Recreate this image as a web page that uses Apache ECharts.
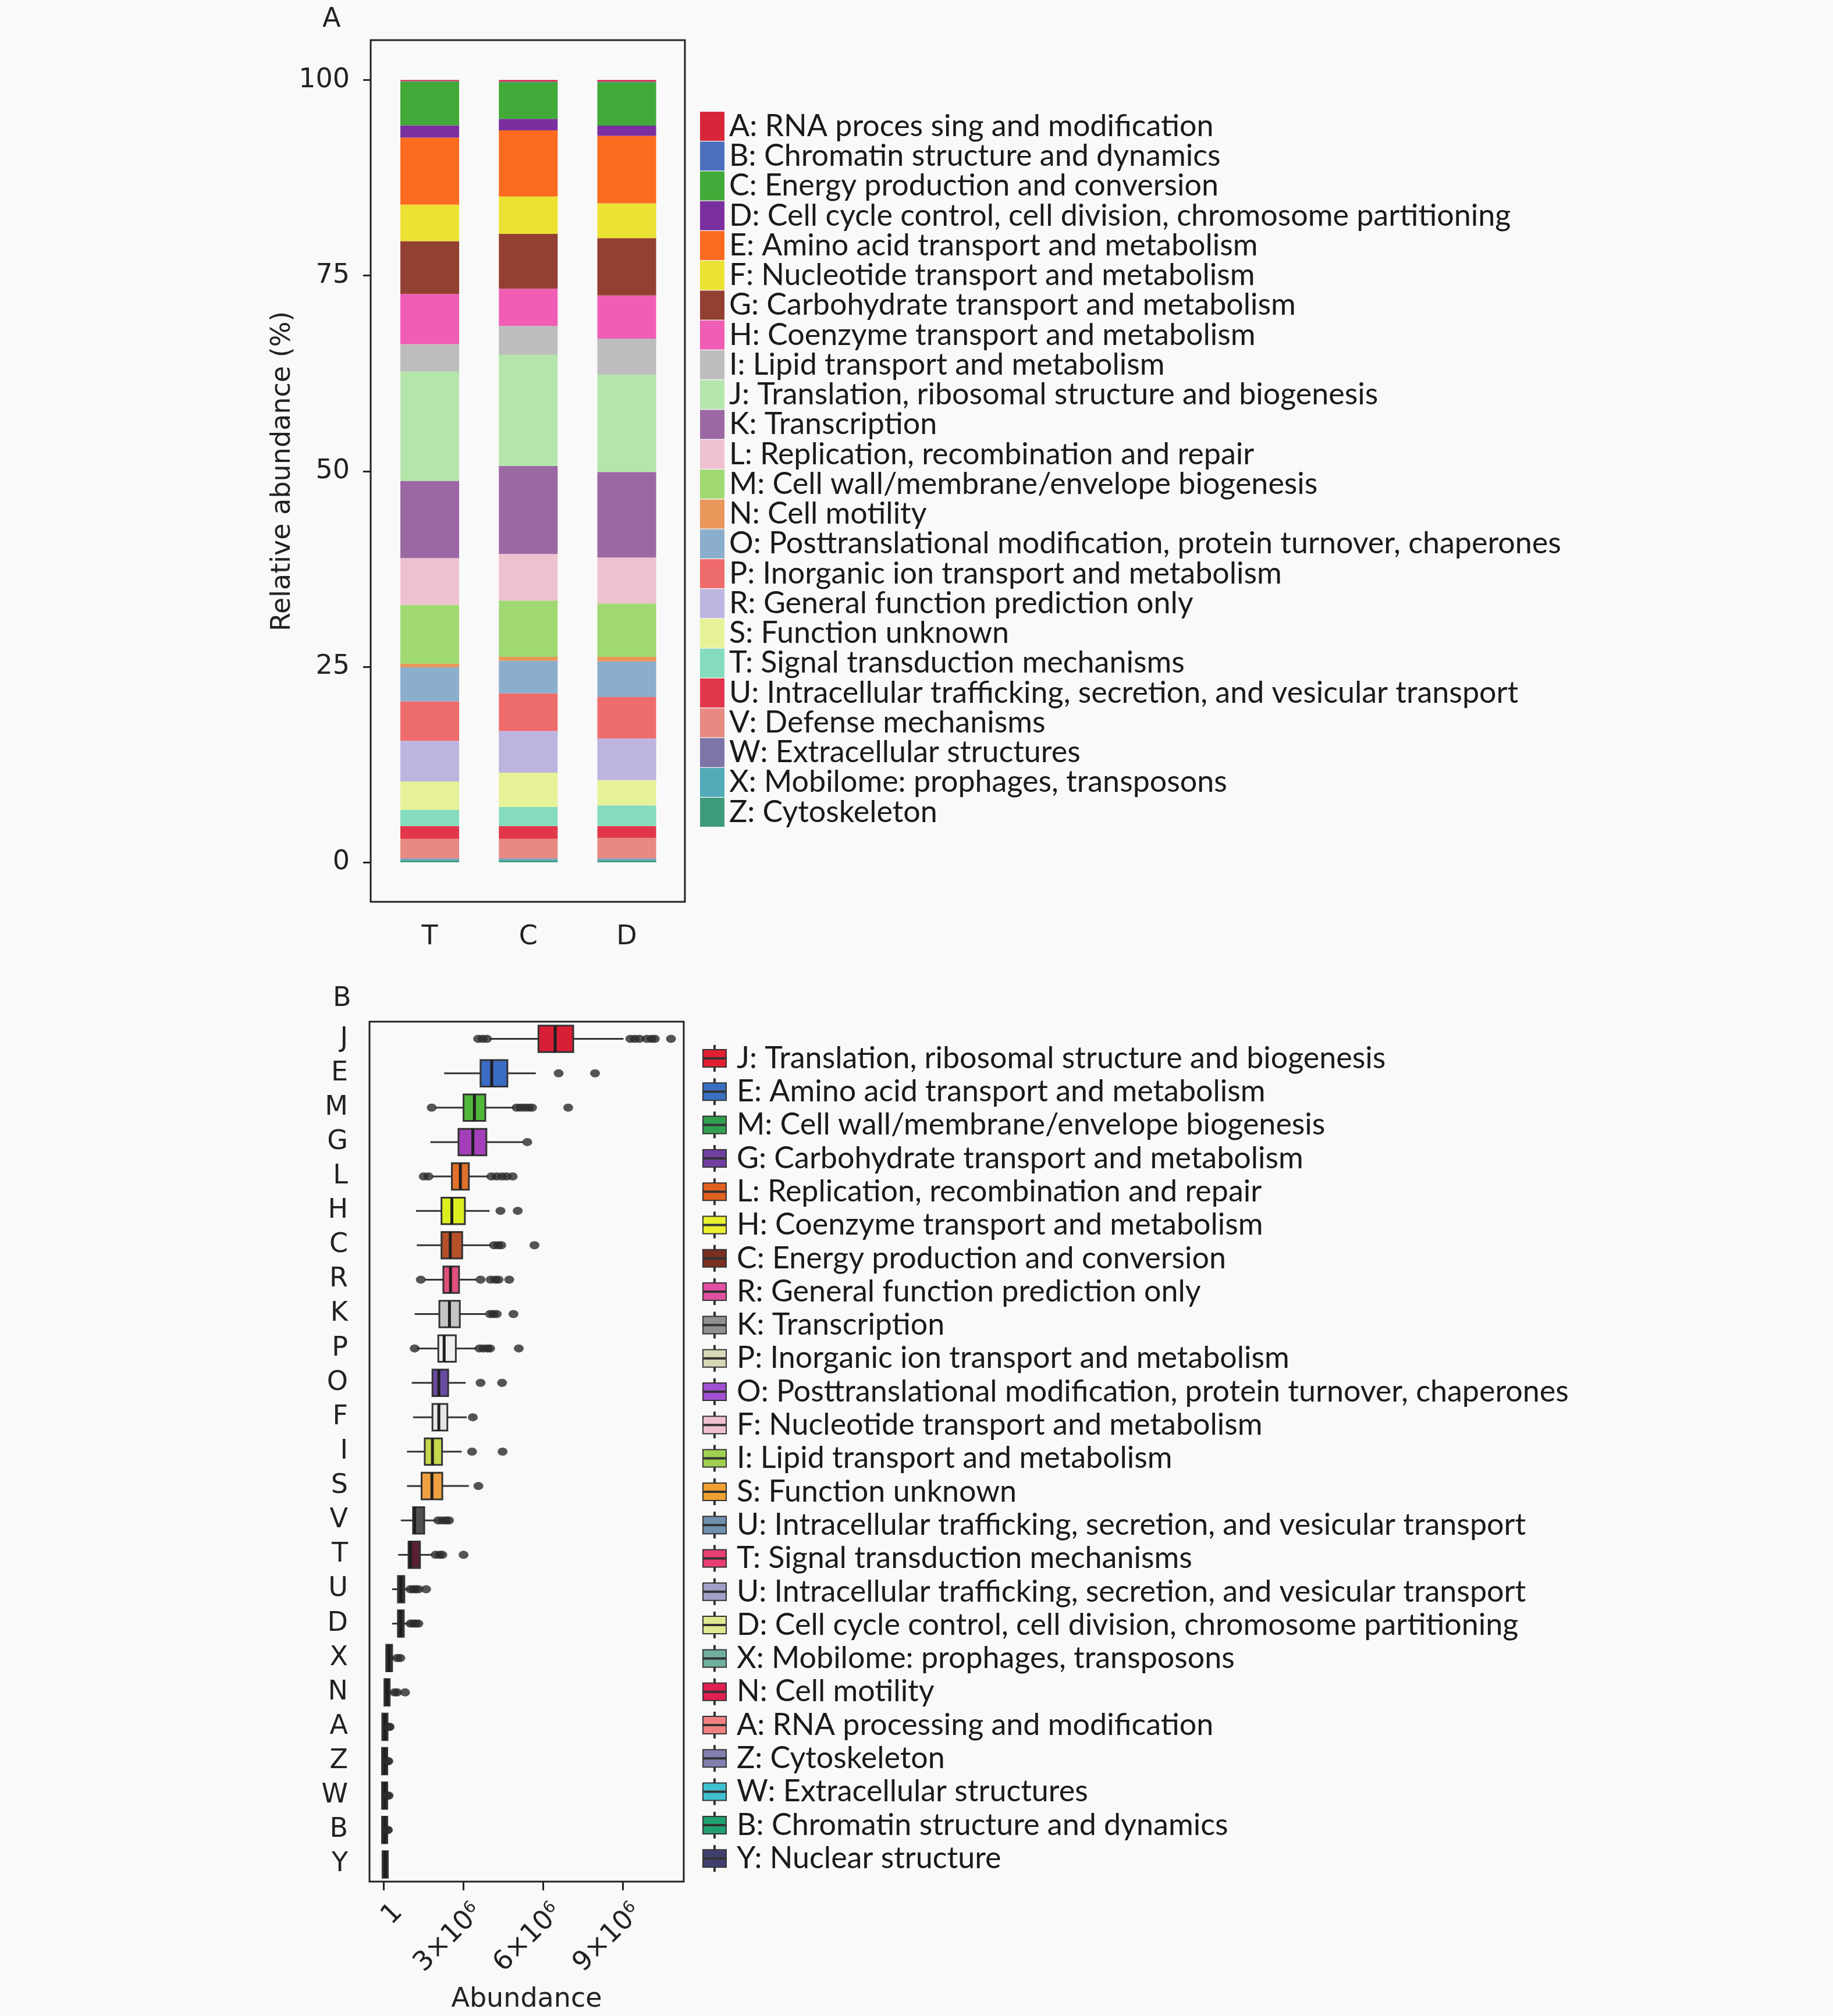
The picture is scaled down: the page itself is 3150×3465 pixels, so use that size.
<!DOCTYPE html>
<html><head><meta charset="utf-8">
<script src="https://cdn.jsdelivr.net/npm/echarts@6/dist/echarts.min.js"></script>
<style>html,body{margin:0;padding:0;background:#f9f9f9}#c{width:3150px;height:3465px}</style>
</head><body><div id="c"></div>
<script>
// ================= Panel A data =================
const samples = ['T', 'C', 'D'];
const cogCodes = ['A','B','C','D','E','F','G','H','I','J','K','L','M','N','O','P','R','S','T','U','V','W','X','Z'];
const cogLabels = [
  'A: RNA proces sing and modification',
  'B: Chromatin structure and dynamics',
  'C: Energy production and conversion',
  'D: Cell cycle control, cell division, chromosome partitioning',
  'E: Amino acid transport and metabolism',
  'F: Nucleotide transport and metabolism',
  'G: Carbohydrate transport and metabolism',
  'H: Coenzyme transport and metabolism',
  'I: Lipid transport and metabolism',
  'J: Translation, ribosomal structure and biogenesis',
  'K: Transcription',
  'L: Replication, recombination and repair',
  'M: Cell wall/membrane/envelope biogenesis',
  'N: Cell motility',
  'O: Posttranslational modification, protein turnover, chaperones',
  'P: Inorganic ion transport and metabolism',
  'R: General function prediction only',
  'S: Function unknown',
  'T: Signal transduction mechanisms',
  'U: Intracellular trafficking, secretion, and vesicular transport',
  'V: Defense mechanisms',
  'W: Extracellular structures',
  'X: Mobilome: prophages, transposons',
  'Z: Cytoskeleton'
];
// relative abundance (%) per COG category, same order as cogCodes
const pctT = [0.15,0.05,5.60,1.56,8.57,4.67,6.74,6.42,3.51,13.98,9.87,5.99,7.51,0.46,4.36,5.04,5.20,3.61,2.08,1.63,2.50,0.10,0.15,0.25];
const pctC = [0.20,0.07,4.68,1.48,8.45,4.79,7.00,4.76,3.69,14.22,11.24,5.96,7.21,0.49,4.17,4.82,5.31,4.37,2.46,1.63,2.50,0.10,0.15,0.25];
const pctD = [0.20,0.07,5.57,1.29,8.64,4.44,7.32,5.53,4.60,12.44,10.94,5.88,6.83,0.57,4.55,5.31,5.31,3.23,2.65,1.52,2.61,0.10,0.15,0.25];

// ================= Panel B data (abundance, x10^6) =================
const boxCodes = ['J','E','M','G','L','H','C','R','K','P','O','F','I','S','V','T','U','D','X','N','A','Z','W','B','Y'];
const boxLegendLabels = [
  'J: Translation, ribosomal structure and biogenesis',
  'E: Amino acid transport and metabolism',
  'M: Cell wall/membrane/envelope biogenesis',
  'G: Carbohydrate transport and metabolism',
  'L: Replication, recombination and repair',
  'H: Coenzyme transport and metabolism',
  'C: Energy production and conversion',
  'R: General function prediction only',
  'K: Transcription',
  'P: Inorganic ion transport and metabolism',
  'O: Posttranslational modification, protein turnover, chaperones',
  'F: Nucleotide transport and metabolism',
  'I: Lipid transport and metabolism',
  'S: Function unknown',
  'U: Intracellular trafficking, secretion, and vesicular transport',
  'T: Signal transduction mechanisms',
  'U: Intracellular trafficking, secretion, and vesicular transport',
  'D: Cell cycle control, cell division, chromosome partitioning',
  'X: Mobilome: prophages, transposons',
  'N: Cell motility',
  'A: RNA processing and modification',
  'Z: Cytoskeleton',
  'W: Extracellular structures',
  'B: Chromatin structure and dynamics',
  'Y: Nuclear structure'
];
const boxLow  = [3.98,2.27,1.93,1.75,1.83,1.21,1.24,1.54,1.16,1.24,1.05,1.10,0.87,0.87,0.64,0.54,0.31,0.31,0.09,0.05,0.00,0.00,0.00,0.00,0.00];
const boxQ1   = [5.82,3.64,3.00,2.81,2.56,2.17,2.17,2.24,2.09,2.05,1.83,1.83,1.54,1.42,1.10,0.93,0.53,0.53,0.09,0.05,0.02,0.01,0.01,0.01,0.00];
const boxMed  = [6.45,4.06,3.41,3.35,2.88,2.56,2.50,2.51,2.47,2.27,2.07,2.07,1.83,1.81,1.16,1.00,0.64,0.63,0.19,0.12,0.04,0.03,0.03,0.03,0.05];
const boxQ3   = [7.13,4.65,3.82,3.86,3.20,3.05,2.95,2.83,2.86,2.71,2.42,2.39,2.19,2.20,1.52,1.36,0.77,0.75,0.31,0.22,0.07,0.05,0.05,0.05,0.10];
const boxHigh = [9.02,5.72,4.91,5.25,3.93,3.98,4.03,3.49,3.84,3.49,3.08,3.12,2.93,3.20,1.98,1.83,0.90,0.90,0.41,0.31,0.12,0.09,0.09,0.09,0.10];
const boxOutliers = [
  [3.55,3.72,3.88,9.28,9.45,9.62,9.90,10.08,10.20,10.81],
  [6.58,7.95],
  [1.80,5.00,5.15,5.30,5.45,5.58,6.94],
  [5.40],
  [1.50,1.68,4.05,4.25,4.45,4.62,4.85],
  [4.39,5.04],
  [4.15,4.30,4.42,5.67],
  [1.39,3.64,4.02,4.20,4.32,4.72],
  [4.00,4.12,4.25,4.88],
  [1.16,3.60,3.75,3.90,4.00,5.08],
  [3.64,4.45],
  [3.35],
  [3.32,4.47],
  [3.56],
  [2.05,2.20,2.35,2.45],
  [1.95,2.10,2.20,3.00],
  [1.00,1.10,1.20,1.30,1.59],
  [1.00,1.10,1.20,1.30],
  [0.50,0.62],
  [0.40,0.50,0.80],
  [0.18,0.22],
  [0.13,0.17],
  [0.13,0.18],
  [0.13,0.15],
  []
];
const abundanceTicks = [0, 3, 6, 9];
const abundanceTickLabels = ['{n|1}', '{n|3×10}{s|6}', '{n|6×10}{s|6}', '{n|9×10}{s|6}'];

// ================= styles / layout =================
const barColors = ['#d7263a','#4b6fbd','#41aa38','#7a2f9f','#fd6b20','#ece233','#933f32','#ef5db4','#bdbdbd','#b4e6ab','#9c68a4','#eec1d0','#a0d972','#e9965a','#8caecd','#ef6c6c','#bdb5e0','#e7f298','#85dcbd','#e2364a','#e78a82','#7d74a8','#52abb8','#3e9b7c'];
const boxFill = ['#d81e34','#3b6cc4','#52b83c','#a33fb8','#e0702a','#dcef1e','#b5502a','#e0507a','#c4c4c4','#efefef','#6a4aa0','#e6e6e6','#c5d84a','#f0a040','#505050','#5a2035','#333333','#333333','#333333','#333333','#333333','#333333','#333333','#333333','#333333'];
const boxLegendColors = ['#e02030','#3a70c0','#30a050','#7040a0','#e06020','#e8f030','#7a3020','#e050a0','#909090','#d8d8b8','#a050d0','#f0c0d0','#a0d050','#f0a030','#7090b0','#e84070','#a0a0c8','#e0e890','#70b0a0','#e02050','#f08080','#8080b0','#40c0d0','#20a070','#404070'];

const INK = '#222';
const tickFont = {fontFamily: 'DejaVu Sans', fontSize: 46, color: INK};
const abMin = -0.54, abMax = 11.29;     // x extent of panel B (x10^6)
const labelShift = 0.55;                // rotated labels sit slightly right of their ticks (matplotlib style)

// ---- bar series (stacked bottom -> top : Z ... A) ----
const barSeries = [];
for (let i = cogCodes.length - 1; i >= 0; i--) {
  barSeries.push({
    type: 'bar', name: cogLabels[i], xAxisIndex: 1, yAxisIndex: 1, stack: 'total',
    barWidth: 101, data: [pctT[i], pctC[i], pctD[i]],
    itemStyle: {color: barColors[i]}, emphasis: {disabled: true}
  });
}

// ---- box series ----
function makeRender(fill) {
  return function (params, api) {
    const ci = api.value(0);
    const lo = api.coord([api.value(1), ci]);
    const q1 = api.coord([api.value(2), ci]);
    const md = api.coord([api.value(3), ci]);
    const q3 = api.coord([api.value(4), ci]);
    const hi = api.coord([api.value(5), ci]);
    const bandH = api.size([0, 1])[1];
    const h = bandH * 0.77;
    const y = lo[1];
    const w = Math.max(q3[0] - q1[0], 9);
    const x0 = (q3[0] - q1[0] < 9) ? md[0] - w / 2 : q1[0];
    return {type: 'group', children: [
      {type: 'line', shape: {x1: lo[0], y1: y, x2: x0, y2: y}, style: {stroke: '#333', lineWidth: 3}},
      {type: 'line', shape: {x1: x0 + w, y1: y, x2: hi[0], y2: y}, style: {stroke: '#333', lineWidth: 3}},
      {type: 'rect', shape: {x: x0, y: y - h / 2, width: w, height: h}, style: {fill: fill, stroke: '#333', lineWidth: 3}},
      {type: 'line', shape: {x1: md[0], y1: y - h / 2, x2: md[0], y2: y + h / 2}, style: {stroke: '#1e1e1e', lineWidth: 5}}
    ]};
  };
}
const boxSeries = boxCodes.map((code, i) => ({
  type: 'custom', name: code, xAxisIndex: 2, yAxisIndex: 2,
  encode: {x: [1, 2, 3, 4, 5], y: 0},
  data: [[i, boxLow[i], boxQ1[i], boxMed[i], boxQ3[i], boxHigh[i]]],
  itemStyle: {color: boxLegendColors[i]},
  renderItem: makeRender(boxFill[i]), z: 3
}));
const outlierData = [];
boxOutliers.forEach((arr, i) => arr.forEach(v => outlierData.push([v, i])));
const outlierSeries = {
  type: 'scatter', name: 'outliers', xAxisIndex: 2, yAxisIndex: 2,
  data: outlierData, symbol: 'circle', symbolSize: [17, 14],
  itemStyle: {color: '#2b2b2b'}, z: 4, emphasis: {disabled: true}
};

const legendIconB = 'path://M19,0 h2 v7 h19 v14 h-40 v-14 h19 z M0,23 h40 v14 h-19 v7 h-2 v-7 h-19 z';
const legendText = {fontFamily: 'Lato', fontSize: 52, color: '#1a1a1a'};

const option = {
  backgroundColor: '#f9f9f9',
  animation: false,
  title: [
    {text: 'A', left: 549, top: 6, textStyle: {fontFamily: 'DejaVu Sans', fontSize: 46, fontWeight: 'normal', color: INK}},
    {text: 'B', left: 567, top: 1689, textStyle: {fontFamily: 'DejaVu Sans', fontSize: 46, fontWeight: 'normal', color: INK}}
  ],
  grid: [
    {left: 637, top: 69, width: 540, height: 1481, show: true, borderColor: INK, borderWidth: 3, backgroundColor: 'transparent'},
    {left: 653.9, top: 137.6, width: 507.8, height: 1344.4},
    {left: 635, top: 1756, width: 540, height: 1478, show: true, borderColor: INK, borderWidth: 3, backgroundColor: 'transparent'}
  ],
  xAxis: [
    {gridIndex: 0, type: 'value', show: false, min: 0, max: 1},
    {gridIndex: 1, type: 'category', data: samples, position: 'bottom', offset: 68,
      axisLine: {show: false},
      axisTick: {alignWithLabel: true, length: 15, lineStyle: {width: 3, color: INK}},
      axisLabel: Object.assign({margin: 38}, tickFont)},
    {gridIndex: 2, type: 'value', min: abMin, max: abMax, position: 'bottom',
      axisLine: {show: false}, splitLine: {show: false},
      axisTick: {show: true, customValues: abundanceTicks, length: 15, lineStyle: {width: 3, color: INK}},
      axisLabel: {show: false},
      name: 'Abundance', nameLocation: 'middle', nameGap: 180,
      nameTextStyle: {fontFamily: 'DejaVu Sans', fontSize: 46, color: INK}},
    {gridIndex: 2, type: 'value', min: abMin - labelShift, max: abMax - labelShift, position: 'bottom',
      axisLine: {show: false}, splitLine: {show: false}, axisTick: {show: false},
      axisLabel: {customValues: abundanceTicks, rotate: 45, margin: 46,
        formatter: function (v) { const k = abundanceTicks.indexOf(v); return k >= 0 ? abundanceTickLabels[k] : ''; },
        rich: {n: {fontFamily: 'DejaVu Sans', fontSize: 46, color: INK},
               s: {fontFamily: 'DejaVu Sans', fontSize: 28, color: INK, padding: [0, 0, 20, 0]}}}}
  ],
  yAxis: [
    {gridIndex: 0, type: 'value', show: false, min: 0, max: 1},
    {gridIndex: 1, type: 'value', min: 0, max: 100, interval: 25, offset: 16.9,
      axisLine: {show: false}, splitLine: {show: false},
      axisTick: {show: true, length: 13, lineStyle: {width: 3, color: INK}},
      axisLabel: Object.assign({margin: 36}, tickFont),
      name: 'Relative abundance (%)', nameLocation: 'middle', nameGap: 128,
      nameTextStyle: {fontFamily: 'DejaVu Sans', fontSize: 46, color: INK}},
    {gridIndex: 2, type: 'category', data: boxCodes, inverse: true,
      axisLine: {show: false},
      axisTick: {alignWithLabel: true, interval: 0, length: 13, lineStyle: {width: 3, color: INK}},
      axisLabel: {interval: 0, fontFamily: 'DejaVu Sans', fontSize: 46, color: INK, margin: 37}}
  ],
  legend: [
    {data: cogLabels, orient: 'vertical', left: 1198, top: 186, icon: 'rect',
      itemWidth: 42, itemHeight: 50, itemGap: -0.74, selectedMode: false,
      textStyle: Object.assign({lineHeight: 50, padding: [0, 0, 0, 3]}, legendText)},
    {data: boxCodes, orient: 'vertical', left: 1202, top: 1788, icon: legendIconB,
      itemWidth: 40, itemHeight: 44, itemGap: 5.3, selectedMode: false,
      itemStyle: {borderColor: '#333', borderWidth: 2},
      formatter: function (name) { return boxLegendLabels[boxCodes.indexOf(name)]; },
      textStyle: Object.assign({lineHeight: 44, padding: [0, 0, 0, 13]}, legendText)}
  ],
  series: barSeries.concat(boxSeries, [outlierSeries])
};

const chart = echarts.init(document.getElementById('c'), null, {renderer: 'canvas'});
chart.setOption(option);
</script>
</body></html>
